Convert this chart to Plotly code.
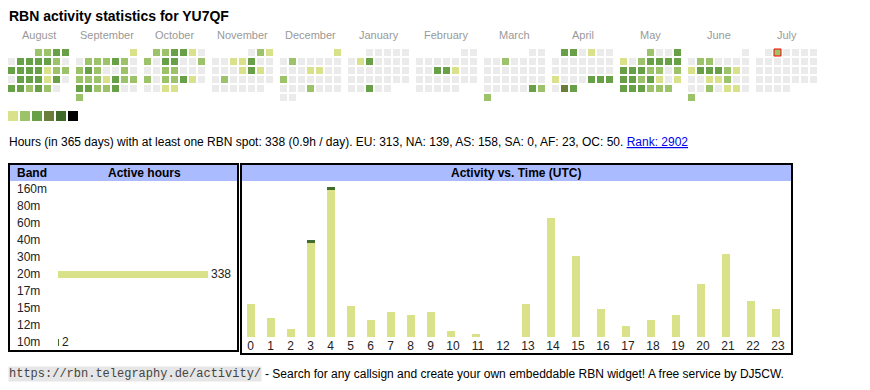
import plotly.graph_objects as go
import pandas as pd

# page is rendered with an 8px body margin: figure pixel = page pixel - 8
OFF = 8
W, H = 862, 382

# ---------------- data ----------------
CALLSIGN = "YU7QF"
MONTHS = ["August", "September", "October", "November", "December", "January",
          "February", "March", "April", "May", "June", "July"]
MONTH_STARTS = ["2024-08-01", "2024-09-01", "2024-10-01", "2024-11-01", "2024-12-01", "2025-01-01",
                "2025-02-01", "2025-03-01", "2025-04-01", "2025-05-01", "2025-06-01", "2025-07-01"]
TODAY = "2025-07-02"

# activity level per day (0 = none, 1..6 = legend levels)
aug = [2, 2, 3, 3, 0, 3, 3, 3, 3, 2, 0, 3, 3, 3, 3, 1, 2, 2, 0, 3, 3, 3, 1, 3, 0, 3, 3, 2, 3, 2, 0]
sep = [1, 0, 2, 2, 2, 3, 2, 0, 2, 3, 2, 0, 0, 2, 0, 2, 2, 2, 1, 3, 2, 2, 3, 3, 2, 2, 3, 0, 0, 2]
oct_ = [2, 2, 3, 3, 1, 0, 2, 0, 3, 3, 0, 0, 2, 0, 0, 2, 2, 0, 0, 0, 2, 0, 2, 2, 3, 1, 0, 0, 0, 1, 1]
nov = [0, 2, 1, 0, 0, 1, 1, 3, 0, 0, 0, 0, 0, 1, 3, 1, 0, 0, 2, 0, 0, 0, 0, 0, 0, 0, 0, 0, 0, 0]
dec = [1, 0, 2, 0, 0, 0, 0, 0, 0, 0, 0, 1, 1, 0, 0, 2, 0, 0, 0, 0, 0, 0, 0, 0, 0, 2, 0, 0, 0, 0, 0]
jan = [0, 0, 0, 0, 0, 0, 1, 3, 0, 0, 0, 0, 0, 0, 0, 0, 0, 0, 0, 0, 0, 0, 0, 0, 0, 0, 0, 0, 3, 0, 0]
feb = [0, 0, 0, 0, 0, 0, 0, 0, 0, 0, 0, 3, 3, 1, 0, 0, 0, 0, 0, 0, 0, 0, 0, 0, 0, 0, 0, 0]
mar = [0, 0, 0, 0, 2, 0, 0, 0, 0, 0, 0, 0, 0, 0, 0, 0, 0, 0, 0, 0, 0, 0, 0, 0, 0, 0, 0, 0, 3, 2, 2]
apr = [3, 3, 0, 1, 0, 0, 0, 0, 0, 0, 0, 0, 0, 0, 0, 0, 0, 0, 0, 0, 1, 0, 0, 0, 3, 3, 3, 0, 4, 3]
may = [2, 0, 0, 3, 1, 0, 2, 3, 3, 3, 3, 3, 3, 3, 2, 2, 0, 2, 3, 3, 2, 3, 1, 0, 1, 3, 3, 3, 2, 2, 2]
jun = [0, 0, 2, 2, 0, 0, 0, 0, 1, 3, 3, 3, 2, 1, 0, 0, 0, 1, 1, 2, 0, 0, 0, 0, 2, 0, 1, 1, 0, 2]
jul = [0, 2, 0, 0, 0, 0, 0, 0, 0, 0, 0, 0, 0, 0, 0, 0, 0, 0, 0, 0, 0, 0, 0, 0, 0, 0, 0, 0, 0, 0, 0]
MONTH_LEVELS = [aug, sep, oct_, nov, dec, jan, feb, mar, apr, may, jun, jul]

LEVEL_COLORS = ["#ebebeb", "#d9e28a", "#9dc36a", "#68a047", "#6a7d3a", "#3e6a2b", "#000000"]

BANDS = ["160m", "80m", "60m", "40m", "30m", "20m", "17m", "15m", "12m", "10m"]
BAND_HOURS = [0, 0, 0, 0, 0, 338, 0, 0, 0, 2]
BAND_COLORS = ["#888888", "#888888", "#888888", "#888888", "#888888", "#d9e288",
               "#888888", "#888888", "#888888", "#426b2f"]

HOURS = list(range(24))
HOURS_20M = [12, 7, 3, 34, 53, 11, 6, 9, 8, 9, 2, 1, 0, 12, 43, 29, 10, 4, 6, 8, 19, 30, 13, 10]
HOURS_10M = [0, 0, 0, 1, 1, 0, 0, 0, 0, 0, 0, 0, 0, 0, 0, 0, 0, 0, 0, 0, 0, 0, 0, 0]

TOTAL_HOURS = 338
DAYS = 365
PER_DAY = 0.9
CONTINENTS = ["EU", "NA", "AS", "SA", "AF", "OC"]
CONT_HOURS = [313, 139, 158, 0, 23, 50]
RANK = 2902

FONT = "Liberation Sans, Arial, sans-serif"
MONO = "Liberation Mono, Courier New, monospace"

# ---------------- calendar (page-pixel based full-figure axis) ----------------
CAL_X0, CAL_Y0, BLOCK_W, PITCH, CELL = 8, 49, 68, 9, 7
cx, cy, ccol, cline, cwidth, ctext = [], [], [], [], [], []
for m, (start, levels) in enumerate(zip(MONTH_STARTS, MONTH_LEVELS)):
    d0 = pd.Timestamp(start)
    off = d0.weekday()
    for i, lv in enumerate(levels):
        pos = off + i
        row, col = divmod(pos, 7)
        cx.append(CAL_X0 + BLOCK_W * m + PITCH * col + CELL / 2)
        cy.append(CAL_Y0 + PITCH * row + CELL / 2)
        ccol.append(LEVEL_COLORS[lv])
        day = d0 + pd.Timedelta(days=i)
        is_today = day == pd.Timestamp(TODAY)
        cline.append("#ff0000" if is_today else "rgba(0,0,0,0)")
        cwidth.append(1 if is_today else 0)
        ctext.append(day.strftime("%Y-%m-%d"))

fig = go.Figure()
fig.add_trace(go.Scatter(
    x=cx, y=cy, mode="markers", text=ctext, hoverinfo="text",
    marker=dict(symbol="square", size=CELL, color=ccol, line=dict(color=cline, width=cwidth)),
    xaxis="x", yaxis="y", showlegend=False))

# legend swatches
fig.add_trace(go.Scatter(
    x=[8 + 12 * k + 5 for k in range(6)], y=[116] * 6, mode="markers", hoverinfo="skip",
    marker=dict(symbol="square", size=10, color=LEVEL_COLORS[1:], line=dict(width=0)),
    xaxis="x", yaxis="y", showlegend=False))

# ---------------- band table bars ----------------
fig.add_trace(go.Bar(
    x=BAND_HOURS, y=BANDS, orientation="h", width=0.41,
    marker=dict(color=BAND_COLORS, line=dict(width=0)),
    text=[str(v) if v else "" for v in BAND_HOURS], textposition="outside",
    textfont=dict(family=FONT, size=12, color="#222"), cliponaxis=False,
    constraintext="none", xaxis="x2", yaxis="y2", showlegend=False))

# ---------------- activity vs time ----------------
widths = [5 * (len(str(h)) + 3) for h in HOURS]
lefts = [sum(widths[:i]) for i in range(len(HOURS))]
bar_x = [l + 10.5 for l in lefts]
tick_x = [l + w / 2 for l, w in zip(lefts, widths)]

fig.add_trace(go.Bar(x=bar_x, y=HOURS_20M, width=8, marker=dict(color="#d9e288", line=dict(width=0)),
                     name="20m", xaxis="x3", yaxis="y3", showlegend=False))
fig.add_trace(go.Bar(x=bar_x, y=HOURS_10M, width=8, marker=dict(color="#426b2f", line=dict(width=0)),
                     name="10m", xaxis="x3", yaxis="y3", showlegend=False))

ymax = max(a + b for a, b in zip(HOURS_20M, HOURS_10M))


def dx(p):
    return (p - OFF) / W


def dy(p):
    return 1 - (p - OFF) / H


hidden = dict(visible=False, showgrid=False, zeroline=False, fixedrange=True)
fig.update_layout(
    width=W, height=H, autosize=False,
    margin=dict(l=0, r=0, t=0, b=0, pad=0),
    paper_bgcolor="white", plot_bgcolor="rgba(0,0,0,0)",
    barmode="stack", bargap=0,
    font=dict(family=FONT, size=12, color="#222"),
    xaxis=dict(domain=[0, 1], range=[OFF, OFF + W], **hidden),
    yaxis=dict(domain=[0, 1], range=[OFF + H, OFF], **hidden),
    xaxis2=dict(domain=[dx(58), dx(236)], range=[0, 400], anchor="y2", **hidden),
    yaxis2=dict(domain=[dy(350.5), dy(180.5)], range=[9.5, -0.5], type="category",
                categoryorder="array", categoryarray=BANDS, anchor="x2", **hidden),
    xaxis3=dict(domain=[dx(242), dx(791)], range=[1.5, 550.5], anchor="y3",
                tickmode="array", tickvals=tick_x, ticktext=[str(h) for h in HOURS],
                showgrid=False, zeroline=False, showline=False, ticks="", fixedrange=True,
                tickfont=dict(family=FONT, size=12, color="#222")),
    yaxis3=dict(domain=[dy(337), dy(187)], range=[0, ymax], anchor="x3", **hidden),
)

shapes = []
# left box
shapes.append(dict(type="rect", xref="x", yref="y", x0=10, x1=237, y0=165, y1=181,
                   fillcolor="#aabbff", line=dict(width=0), layer="below"))
shapes.append(dict(type="rect", xref="x", yref="y", x0=9, x1=238, y0=164, y1=351,
                   line=dict(color="black", width=2)))
# right box
shapes.append(dict(type="rect", xref="x", yref="y", x0=242, x1=791, y0=165, y1=181,
                   fillcolor="#aabbff", line=dict(width=0), layer="below"))
shapes.append(dict(type="rect", xref="x", yref="y", x0=241, x1=792, y0=164, y1=354,
                   line=dict(color="black", width=2)))
fig.update_layout(shapes=shapes)

ann = []
ann.append(dict(text="<b>RBN activity statistics for %s</b>" % CALLSIGN, x=8, xshift=-1, y=16,
                font=dict(family=FONT, size=14, color="black")))
for m, name in enumerate(MONTHS):
    ann.append(dict(text=name, x=CAL_X0 + BLOCK_W * m + 30.5, y=35, xanchor="center",
                    font=dict(family=FONT, size=11, color="#999999")))
cont = ", ".join("%s: %d" % (c, v) for c, v in zip(CONTINENTS, CONT_HOURS))
stats = ("Hours (in %d days) with at least one RBN spot: %d (%.1fh / day). %s. "
         "<span style='color:#0000ee'><u>Rank: %d</u></span>" % (DAYS, TOTAL_HOURS, PER_DAY, cont, RANK))
ann.append(dict(text=stats, x=8, xshift=-1, y=142, font=dict(family=FONT, size=12, color="black")))
ann.append(dict(text="<b>Band</b>", x=15, y=173, font=dict(family=FONT, size=12, color="black")))
ann.append(dict(text="<b>Active hours</b>", x=144, y=173, xanchor="center",
                font=dict(family=FONT, size=12, color="black")))
ann.append(dict(text="<b>Activity vs. Time (UTC)</b>", x=516, y=173, xanchor="center",
                font=dict(family=FONT, size=12, color="black")))
for b in BANDS:
    ann.append(dict(text=b, x=15, y=b, yref="y2", font=dict(family=FONT, size=12, color="#222")))
ann.append(dict(text="https://rbn.telegraphy.de/activity/", x=8, y=374, bgcolor="#e6e6e6",
                borderpad=0, font=dict(family=MONO, size=12, color="#444")))
ann.append(dict(text="- Search for any callsign and create your own embeddable RBN widget! "
                     "A free service by DJ5CW.", x=263, y=374,
                font=dict(family=FONT, size=12, color="black")))
for a in ann:
    a.setdefault("xref", "x")
    a.setdefault("yref", "y")
    a.setdefault("xanchor", "left")
    a.setdefault("yanchor", "middle")
    a["showarrow"] = False
fig.update_layout(annotations=ann)

fig.write_html("out.html", config={"displayModeBar": False})
